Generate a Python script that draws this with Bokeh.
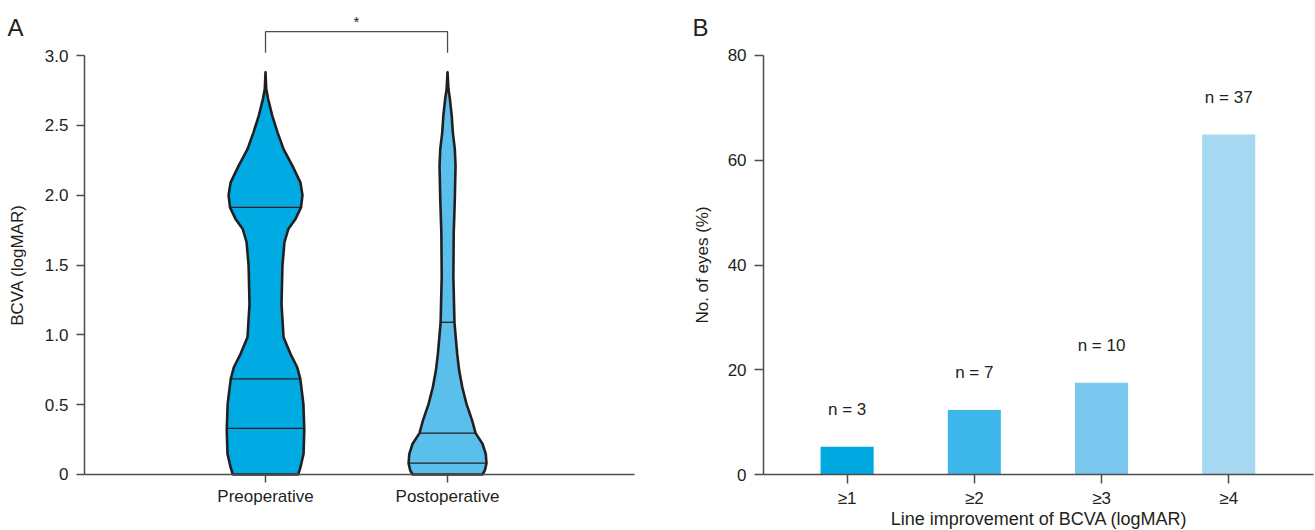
import numpy as np
from bokeh.plotting import figure
from bokeh.layouts import row
from bokeh.models import Range1d, FixedTicker, Label, PrintfTickFormatter
from bokeh.embed import file_html
from bokeh.resources import INLINE

# ---------------- data ----------------
groups = ["Preoperative", "Postoperative"]

# violin outlines: BCVA level (logMAR) and half-width (category units)
pre_levels = [2.88, 2.76, 2.69, 2.57, 2.45, 2.33, 2.21, 2.09, 2.00, 1.913, 1.83, 1.76,
              1.663, 1.496, 1.22, 0.983, 0.864, 0.768, 0.685, 0.506, 0.32, 0.148, 0.052, 0.0]
pre_halfwidth = [0.0, 0.004, 0.014, 0.037, 0.066, 0.099, 0.148, 0.192, 0.203, 0.195, 0.165, 0.126,
                 0.104, 0.093, 0.088, 0.099, 0.137, 0.174, 0.191, 0.208, 0.213, 0.209, 0.192, 0.180]
pre_quartiles = [0.33, 0.685, 1.913]

post_levels = [2.88, 2.76, 2.69, 2.57, 2.45, 2.33, 2.21, 1.97, 1.85, 1.73, 1.42, 1.09, 0.864,
               0.744, 0.625, 0.506, 0.387, 0.296, 0.22, 0.148, 0.081, 0.029, 0.0]
post_halfwidth = [0.0, 0.005, 0.013, 0.023, 0.029, 0.040, 0.044, 0.040, 0.037, 0.034, 0.032, 0.038, 0.053,
                  0.064, 0.081, 0.104, 0.135, 0.154, 0.192, 0.210, 0.214, 0.205, 0.192]
post_quartiles = [0.081, 0.296, 1.09]

bcva_ticks = [0, 0.5, 1.0, 1.5, 2.0, 2.5, 3.0]

improve_labels = ["≥1", "≥2", "≥3", "≥4"]
eyes_pct = [5.3, 12.3, 17.5, 64.9]
eyes_n = [3, 7, 10, 37]
pct_ticks = [0, 20, 40, 60, 80]

# ---------------- styles ----------------
FONT = "Liberation Sans"
INK = "#231F20"
AXIS = "#4D4D4F"
violin_colors = ["#00AAE2", "#5BBFEB"]
bar_colors = ["#00A8E1", "#3DB7E9", "#7AC8EF", "#A7D8F2"]


def style(p):
    p.xgrid.visible = False
    p.ygrid.visible = False
    p.outline_line_color = None
    p.background_fill_color = "white"
    p.border_fill_color = "white"
    for ax in (p.xaxis[0], p.yaxis[0]):
        ax.axis_line_color = AXIS
        ax.axis_line_width = 1.5
        ax.major_tick_line_color = AXIS
        ax.major_tick_line_width = 1.5
        ax.major_tick_in = 0
        ax.major_tick_out = 8
        ax.minor_tick_line_color = None
        ax.major_label_text_font = FONT
        ax.major_label_text_font_size = "17px"
        ax.major_label_text_color = INK
    p.yaxis[0].major_label_standoff = 8
    p.xaxis[0].major_label_standoff = 5


def label(p, x, y, text, size="17px", align="center", baseline="middle", angle=0.0):
    p.add_layout(Label(x=x, y=y, text=text, text_font=FONT, text_font_size=size,
                       text_color=INK, text_align=align, text_baseline=baseline, angle=angle))


# ---------------- panel A ----------------
pA = figure(width=660, height=530, output_backend="svg", toolbar_location=None,
            x_range=Range1d(-1.456, 2.170), y_range=Range1d(-0.401, 3.394),
            min_border_left=0, min_border_right=0, min_border_top=0, min_border_bottom=0)
style(pA)
pA.yaxis[0].ticker = FixedTicker(ticks=bcva_ticks)
pA.yaxis[0].formatter = PrintfTickFormatter(format="%.1f")
pA.yaxis[0].major_label_overrides = {0: "0"}
pA.yaxis[0].bounds = (0, 3)
pA.yaxis[0].fixed_location = -0.995
pA.xaxis[0].ticker = FixedTicker(ticks=[0, 1])
pA.xaxis[0].major_label_overrides = {0: groups[0], 1: groups[1]}
pA.xaxis[0].bounds = (-0.995, 2.027)
pA.xaxis[0].fixed_location = 0

profiles = [(pre_levels, pre_halfwidth, pre_quartiles), (post_levels, post_halfwidth, post_quartiles)]
for i, (lv, hw, q) in enumerate(profiles):
    lv = np.array(lv, dtype=float)
    hw = np.array(hw, dtype=float)
    xs = np.concatenate([i - hw, (i + hw)[::-1]])
    ys = np.concatenate([lv, lv[::-1]])
    pA.patch(xs, ys, fill_color=violin_colors[i], line_color=INK, line_width=2.6, line_join="round")
    order = np.argsort(lv)
    qhw = np.interp(q, lv[order], hw[order])
    pA.segment(x0=i - qhw, y0=q, x1=i + qhw, y1=q, line_color=INK, line_width=1.3)

# significance bracket
pA.line(x=[0, 0, 1, 1], y=[3.02, 3.171, 3.171, 3.02], line_color=AXIS, line_width=1.3)
label(pA, 0.5, 3.245, "*", size="15px")
label(pA, -1.418, 3.200, "A", size="24px", align="left")
label(pA, -1.363, 1.5, "BCVA (logMAR)", angle=np.pi / 2)

# ---------------- panel B ----------------
pB = figure(width=655, height=530, output_backend="svg", toolbar_location=None,
            x_range=Range1d(-0.467, 4.682), y_range=Range1d(-10.69, 90.50),
            min_border_left=0, min_border_right=0, min_border_top=0, min_border_bottom=0)
style(pB)
pB.yaxis[0].ticker = FixedTicker(ticks=pct_ticks)
pB.yaxis[0].bounds = (0, 80)
pB.yaxis[0].fixed_location = 0.343
pB.yaxis[0].major_tick_out = 9
pB.xaxis[0].major_tick_out = 9
xpos = list(range(1, len(improve_labels) + 1))
pB.xaxis[0].ticker = FixedTicker(ticks=xpos)
pB.xaxis[0].major_label_overrides = {k: lab for k, lab in zip(xpos, improve_labels)}
pB.xaxis[0].bounds = (0.343, 4.668)
pB.xaxis[0].fixed_location = 0

pB.vbar(x=xpos, top=eyes_pct, width=0.417, fill_color=bar_colors, line_color=None)
pB.text(x=xpos, y=[v + 7.1 for v in eyes_pct], text=[f"n = {n}" for n in eyes_n],
        text_font={"value": FONT}, text_font_size="17px", text_color=INK,
        text_align="center", text_baseline="middle")

label(pB, -0.215, 85.35, "B", size="24px", align="left")
label(pB, -0.137, 40, "No. of eyes (%)", angle=np.pi / 2)
label(pB, 2.509, -8.40, "Line improvement of BCVA (logMAR)", size="18px")

layout = row(pA, pB)
open("out.html", "w").write(file_html(layout, INLINE))
